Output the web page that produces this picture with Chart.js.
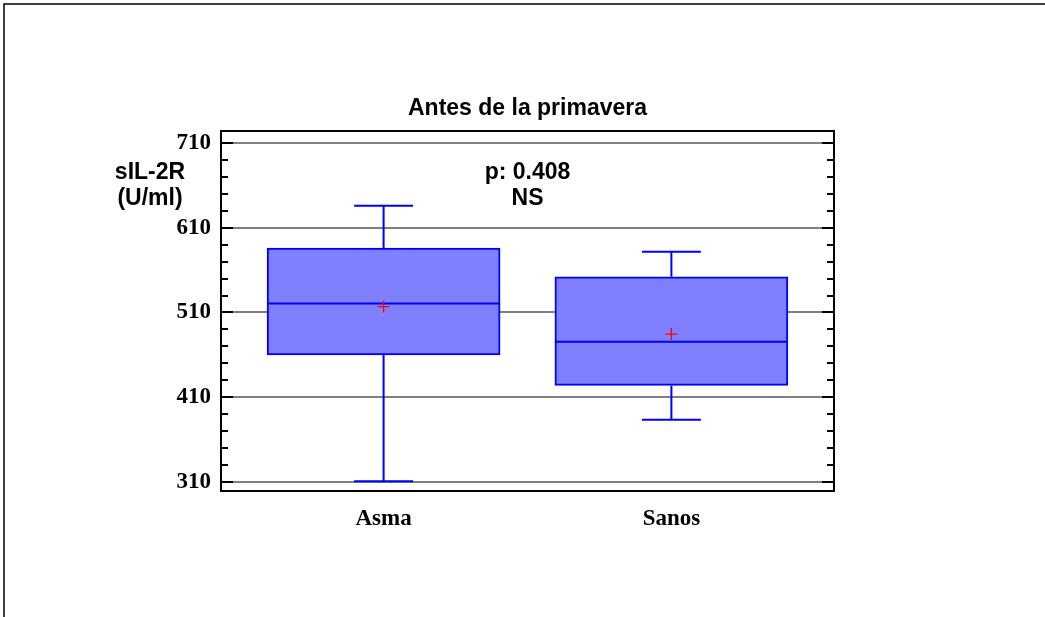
<!DOCTYPE html>
<html>
<head>
<meta charset="utf-8">
<script src="https://cdn.jsdelivr.net/npm/chart.js@4/dist/chart.umd.min.js"></script>
<style>
  html, body { margin: 0; padding: 0; background: #fff; }
  canvas { display: block; }
</style>
</head>
<body>
<canvas id="boxChart" width="1045" height="617"></canvas>
<script>
// Data
const groups = ['Asma', 'Sanos'];
const whiskerLow = [311, 383.5];
const q1 = [460, 424];
const median = [520.5, 475.5];
const mean = [517, 484.5];
const q3 = [586, 552];
const whiskerHigh = [636, 581.5];
const yMajorTicks = [310, 410, 510, 610, 710];
const yMinorStep = 20;

const BLUE = '#0000ff';
const SANS = '"Liberation Sans", Arial, sans-serif';
const SERIF = '"Liberation Serif", "Times New Roman", serif';

// whiskers, medians, frame, inner ticks and annotation text
const boxExtras = {
  id: 'boxExtras',
  afterDatasetsDraw(chart) {
    const ctx = chart.ctx;
    const x = chart.scales.x, y = chart.scales.y;
    const area = chart.chartArea;
    ctx.save();
    ctx.strokeStyle = BLUE;
    groups.forEach((g, i) => {
      const cx = x.getPixelForValue(i + 1);
      const half = 29.5, boxHalf = 116.5;
      ctx.lineWidth = 2;
      ctx.beginPath();
      ctx.moveTo(cx, y.getPixelForValue(q3[i]));
      ctx.lineTo(cx, y.getPixelForValue(whiskerHigh[i]));
      ctx.moveTo(cx - half, y.getPixelForValue(whiskerHigh[i]));
      ctx.lineTo(cx + half, y.getPixelForValue(whiskerHigh[i]));
      ctx.moveTo(cx, y.getPixelForValue(q1[i]));
      ctx.lineTo(cx, y.getPixelForValue(whiskerLow[i]));
      ctx.moveTo(cx - half, y.getPixelForValue(whiskerLow[i]));
      ctx.lineTo(cx + half, y.getPixelForValue(whiskerLow[i]));
      ctx.stroke();
      ctx.beginPath();
      ctx.moveTo(cx - boxHalf, y.getPixelForValue(median[i]));
      ctx.lineTo(cx + boxHalf, y.getPixelForValue(median[i]));
      ctx.stroke();
    });
    // mean markers on top
    ctx.strokeStyle = '#ff0000';
    ctx.lineWidth = 1.3;
    groups.forEach((g, i) => {
      const cx = x.getPixelForValue(i + 1), cy = y.getPixelForValue(mean[i]);
      ctx.beginPath();
      ctx.moveTo(cx - 6, cy); ctx.lineTo(cx + 6, cy);
      ctx.moveTo(cx, cy - 6); ctx.lineTo(cx, cy + 6);
      ctx.stroke();
    });

    // inward ticks on both sides
    ctx.strokeStyle = '#000';
    ctx.lineWidth = 2;
    y.ticks.forEach(t => {
      const py = Math.round(y.getPixelForValue(t.value));
      const len = yMajorTicks.includes(t.value) ? 12 : 7;
      ctx.beginPath();
      ctx.moveTo(area.left, py); ctx.lineTo(area.left + len, py);
      ctx.moveTo(area.right, py); ctx.lineTo(area.right - len, py);
      ctx.stroke();
    });
    // plot frame
    ctx.strokeRect(area.left, area.top, area.right - area.left, area.bottom - area.top);

    // outer page frame
    ctx.lineWidth = 1.5;
    ctx.beginPath();
    ctx.moveTo(4, chart.height); ctx.lineTo(4, 4); ctx.lineTo(chart.width, 4);
    ctx.stroke();

    // title and annotation text
    const mid = (area.left + area.right) / 2;
    ctx.fillStyle = '#000';
    ctx.font = 'bold 23px ' + SANS;
    ctx.textAlign = 'center';
    ctx.textBaseline = 'middle';
    ctx.fillText('Antes de la primavera', mid, 109);
    ctx.fillText('p: 0.408', mid, 173);
    ctx.fillText('NS', mid, 199);
    ctx.fillText('sIL-2R', 150, 173);
    ctx.fillText('(U/ml)', 150, 199);
    ctx.restore();
  }
};

new Chart(document.getElementById('boxChart').getContext('2d'), {
  type: 'bar',
  data: {
    datasets: [{
      label: 'box',
      data: groups.map((g, i) => ({ x: i + 1, y: [q1[i], q3[i]] })),
      backgroundColor: '#8080ff',
      borderColor: BLUE,
      borderWidth: 2,
      borderSkipped: false,
      barThickness: 233
    }]
  },
  options: {
    responsive: false,
    animation: false,
    devicePixelRatio: 1,
    layout: { padding: { left: 0, right: 211, top: 131, bottom: 0 } },
    plugins: {
      legend: { display: false },
      tooltip: { enabled: false },
      title: { display: false }
    },
    scales: {
      x: {
        type: 'linear',
        offset: false,
        min: 0.435,
        max: 2.565,
        afterBuildTicks: s => { s.ticks = groups.map((g, i) => ({ value: i + 1 })); },
        afterFit: s => { s.height = 126; },
        ticks: {
          color: '#000',
          padding: 6,
          font: { family: SERIF, size: 23, weight: 'bold' },
          callback: v => groups[v - 1] || ''
        },
        grid: { display: false },
        border: { display: false }
      },
      y: {
        min: 299.5,
        max: 724,
        afterBuildTicks: s => {
          const t = [];
          for (let v = yMajorTicks[0]; v <= yMajorTicks[yMajorTicks.length - 1]; v += yMinorStep) t.push({ value: v });
          s.ticks = t;
        },
        afterFit: s => { s.width = 221; },
        ticks: {
          color: '#000',
          padding: 10,
          autoSkip: false,
          font: { family: SERIF, size: 23, weight: 'bold' },
          callback: v => yMajorTicks.includes(v) ? String(v) : ''
        },
        grid: {
          drawTicks: false,
          lineWidth: 2,
          color: c => (c.tick && yMajorTicks.includes(c.tick.value)) ? '#808080' : 'rgba(0,0,0,0)'
        },
        border: { display: false }
      }
    }
  },
  plugins: [boxExtras]
});
</script>
</body>
</html>
